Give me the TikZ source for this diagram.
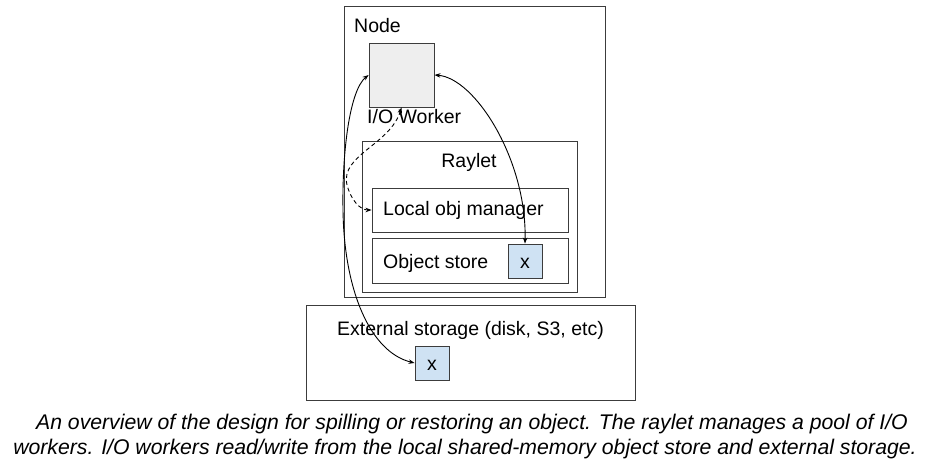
\documentclass[tikz,border=0pt]{standalone}
\usepackage{fontspec}
\setmainfont{Liberation Sans}
\usetikzlibrary{arrows.meta}
\definecolor{edge}{HTML}{3C3C3C}
\definecolor{iofill}{HTML}{EEEEEE}
\definecolor{xfill}{HTML}{CFE2F3}
\tikzset{
  box/.style={draw=edge, line width=0.9pt, inner sep=0pt, anchor=center},
  lbl/.style={inner sep=0pt, font=\fontsize{19.5}{22}\selectfont, text=black},
  xbox/.style={box, fill=xfill, minimum width=34, minimum height=34, lbl, text height=14pt, text depth=0pt},
  conn/.style={line width=0.9pt, black, {Stealth[length=6pt,width=4.5pt]}-{Stealth[length=6pt,width=4.5pt]}},
  captext/.style={inner sep=0pt, anchor=base, font=\fontsize{21.2}{24}\selectfont\itshape}
}
\begin{document}
\begin{tikzpicture}[x=1pt,y=-1pt]
\useasboundingbox[fill=white] (0,0) rectangle (931,473);
% boxes
\node[box, minimum width=261, minimum height=291] (node) at (474.5,151.5) {};
\node[box, minimum width=215, minimum height=151] (raylet) at (469.5,216.5) {};
\node[box, minimum width=196, minimum height=44] (lom) at (470,210) {};
\node[box, minimum width=196, minimum height=45] (os) at (470,260.5) {};
\node[xbox] (xs) at (525,261) {x};
\node[box, fill=iofill, minimum width=65, minimum height=64] (io) at (401.5,75) {};
\node[box, minimum width=329, minimum height=95] (ext) at (470.5,352.5) {};
\node[xbox] (xe) at (432,363) {x};
% labels
\node[lbl, anchor=base west] (tnode) at (354,33) {Node};
\node[lbl, anchor=base west] (tio) at (367,124) {I/O Worker};
\node[lbl, anchor=base] (tray) at (469,168) {Raylet};
\node[lbl, anchor=base west] (tlom) at (383,215) {Local obj manager};
\node[lbl, anchor=base west] (tos) at (383,268) {Object store};
\node[lbl, anchor=base] (text) at (470.5,335) {External storage (disk, S3, etc)};
% connectors
\draw[conn] (io.west) .. controls (350,90) and (342,150) .. (343,210)
  .. controls (344,290) and (370,352) .. (xe.west);
\draw[conn] (io.east) .. controls (475,78) and (527,160) .. (xs.north);
\draw[conn, dashed, dash pattern=on 4pt off 3pt] (io.south) .. controls (390,145) and (340,155) .. (347,185)
  .. controls (351,200) and (360,210) .. (lom.west);
% caption
\node[captext] (cap1) at (472,429) {An overview of the design for spilling or restoring an object. The raylet manages a pool of I/O};
\node[captext] (cap2) at (465,454) {workers. I/O workers read/write from the local shared-memory object store and external storage.};
\end{tikzpicture}
\end{document}
